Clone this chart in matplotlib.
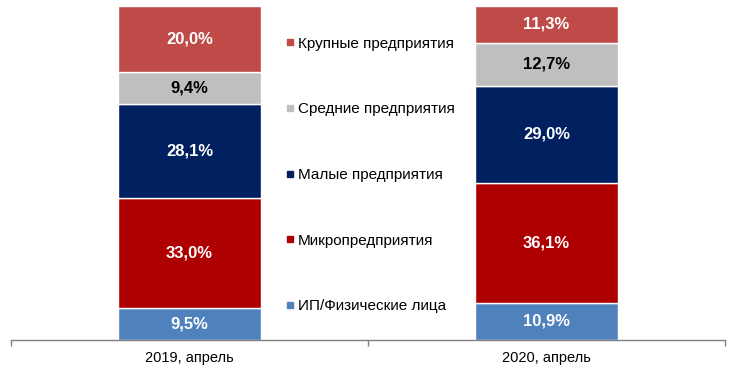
import matplotlib
matplotlib.use("Agg")
import matplotlib.pyplot as plt
from matplotlib.lines import Line2D

plt.rcParams['font.family'] = ['Liberation Sans', 'DejaVu Sans']

categories = ["2019, апрель", "2020, апрель"]
series = ["ИП/Физические лица", "Микропредприятия", "Малые предприятия",
          "Средние предприятия", "Крупные предприятия"]
values = {
    "ИП/Физические лица": [9.5, 10.9],
    "Микропредприятия": [33.0, 36.1],
    "Малые предприятия": [28.1, 29.0],
    "Средние предприятия": [9.4, 12.7],
    "Крупные предприятия": [20.0, 11.3],
}
colors = {
    "ИП/Физические лица": "#4F81BD",
    "Микропредприятия": "#AE0000",
    "Малые предприятия": "#002060",
    "Средние предприятия": "#BFBFBF",
    "Крупные предприятия": "#BE4B48",
}
label_colors = {
    "Средние предприятия": "black",
}

fig = plt.figure(figsize=(7.32, 3.67), dpi=100)
ax = fig.add_axes([11/732, (367-339.5)/367, 714/732, (339.5-5.5)/367])

x = list(range(len(categories)))
bottoms = [0.0] * len(categories)
for s in series:
    v = values[s]
    bars = ax.bar(x, v, width=0.4, bottom=bottoms, color=colors[s],
                  edgecolor="white", linewidth=1)
    for i, b in enumerate(bars):
        ax.text(b.get_x() + b.get_width()/2, bottoms[i] + v[i]/2,
                f"{v[i]:.1f}".replace(".", ",") + "%",
                ha="center", va="center", fontsize=12, fontweight="bold",
                color=label_colors.get(s, "white"))
    bottoms = [bottoms[i] + v[i] for i in range(len(v))]

ax.set_xlim(-0.5, 1.5)
ax.set_ylim(0, 100)
ax.set_yticks([])
for sp in ["top", "right", "left"]:
    ax.spines[sp].set_visible(False)
ax.spines["bottom"].set_color("#808080")
ax.spines["bottom"].set_linewidth(1)
ax.set_xticks([-0.5, 0.5, 1.5], minor=False)
ax.set_xticklabels([])
ax.tick_params(axis="x", which="major", length=4, color="#808080", width=1)
ax.set_xticks(x, minor=True)
ax.set_xticklabels(categories, minor=True, fontsize=10.5)
ax.tick_params(axis="x", which="minor", length=0, pad=8)

handles = [Line2D([0], [0], marker="s", linestyle="none", markersize=5,
                  markerfacecolor=colors[s], markeredgecolor=colors[s])
           for s in reversed(series)]
ax.legend(handles, list(reversed(series)), loc="center left",
          bbox_to_anchor=(285/732, (367-175)/367), bbox_transform=fig.transFigure,
          frameon=False, fontsize=11, labelspacing=3.38, handlelength=0.6,
          handletextpad=0.25, borderaxespad=0, borderpad=0)

fig.savefig("out.png", dpi=100)
